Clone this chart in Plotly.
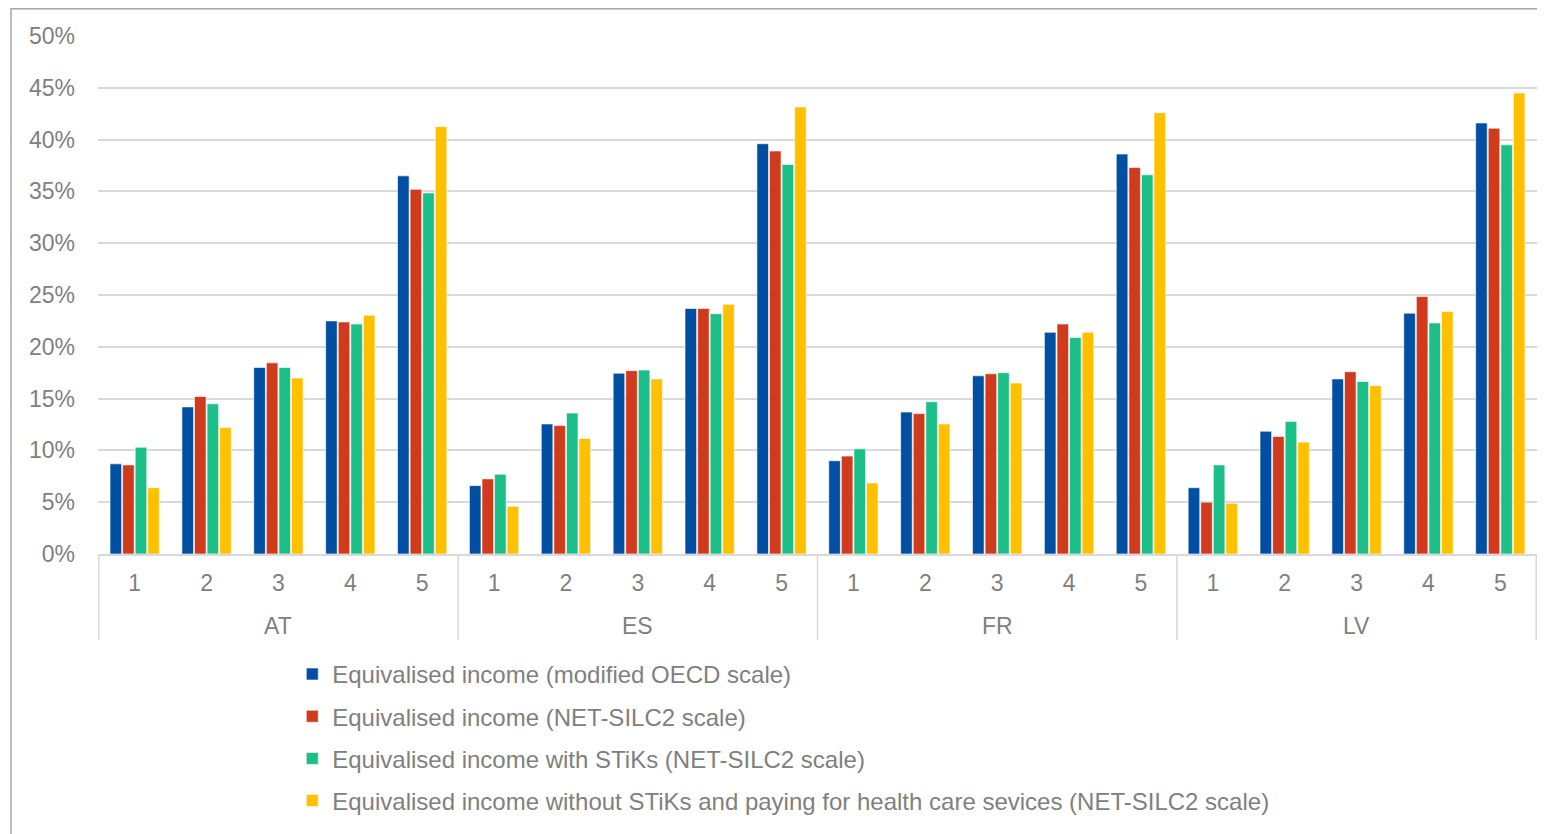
import plotly.graph_objects as go

countries = ["AT", "ES", "FR", "LV"]
quintiles = ["1", "2", "3", "4", "5"]

series_names = [
    "Equivalised income (modified OECD scale)",
    "Equivalised income (NET-SILC2 scale)",
    "Equivalised income with STiKs (NET-SILC2 scale)",
    "Equivalised income without STiKs and paying for health care sevices (NET-SILC2 scale)",
]
colors = ["#004FA2", "#D13B1D", "#1DBF89", "#FFC000"]

# values in %, order: AT q1..q5, ES q1..q5, FR q1..q5, LV q1..q5
oecd = [8.7, 14.2, 18.0, 22.5, 36.5,
        6.6, 12.55, 17.45, 23.7, 39.6,
        9.0, 13.7, 17.2, 21.4, 38.6,
        6.4, 11.85, 16.9, 23.25, 41.6]
netsilc2 = [8.6, 15.2, 18.45, 22.4, 35.2,
            7.25, 12.4, 17.7, 23.7, 38.9,
            9.45, 13.55, 17.4, 22.2, 37.3,
            5.0, 11.35, 17.6, 24.85, 41.1]
with_stiks = [10.3, 14.5, 18.0, 22.2, 34.85,
              7.7, 13.6, 17.75, 23.2, 37.6,
              10.15, 14.7, 17.5, 20.9, 36.6,
              8.6, 12.8, 16.65, 22.3, 39.5]
without_stiks = [6.4, 12.2, 17.0, 23.05, 41.25,
                 4.6, 11.15, 16.9, 24.1, 43.15,
                 6.85, 12.55, 16.5, 21.4, 42.6,
                 4.9, 10.8, 16.25, 23.4, 44.5]

all_series = [oecd, netsilc2, with_stiks, without_stiks]

# one category per (country, quintile)
cats = [f"{c} {q}" for c in countries for q in quintiles]
cat_labels = [q for _ in countries for q in quintiles]

fig = go.Figure()
for i, (name, vals) in enumerate(zip(series_names, all_series)):
    fig.add_trace(go.Bar(
        x=cats,
        y=vals,
        name=name,
        legendgroup=f"g{i}",
        marker=dict(color=colors[i], line=dict(color="white", width=0.6)),
    ))

txt = "#808080"
grid = "#D9D9D9"
# the page adds an 8px body margin, so the figure is laid out 8px smaller
W, H = 1537, 826
L, R, T, B = 90, 8, 28, 280
pw, ph = W - L - R, H - T - B

shapes = [dict(
    type="rect", xref="paper", yref="paper",
    x0=(3 - L) / pw, x1=(W + 20 - L) / pw,
    y0=-(H + 20 - (T + ph)) / ph, y1=(T + ph - 0.8) / ph,
    line=dict(color="#A6A6A6", width=1.5), fillcolor="rgba(0,0,0,0)", layer="below",
)]
# group dividers below the axis, at category boundaries
n = len(quintiles)
for k in range(len(countries) + 1):
    shapes.append(dict(
        type="line", xref="x", yref="paper",
        x0=k * n - 0.5, x1=k * n - 0.5,
        y0=0, y1=-86 / ph,
        line=dict(color=grid, width=1.5),
    ))

annotations = []
for k, c in enumerate(countries):
    annotations.append(dict(
        x=cats[k * n + n // 2], xref="x",
        y=-72 / ph, yref="paper", yanchor="middle",
        text=c, showarrow=False,
        font=dict(size=23, color=txt),
    ))

fig.update_layout(
    width=W, height=H,
    margin=dict(l=L, r=R, t=T, b=B),
    paper_bgcolor="white", plot_bgcolor="white",
    barmode="group", bargap=0.3, bargroupgap=0.08,
    font=dict(family="Liberation Sans, Arial, sans-serif", size=22, color=txt),
    showlegend=True,
    legend=dict(
        orientation="v", x=0.135, xanchor="left", y=-0.189, yanchor="top",
        font=dict(size=24, color=txt), tracegroupgap=8,
        itemwidth=30, bgcolor="rgba(0,0,0,0)",
    ),
    shapes=shapes,
    annotations=annotations,
)
fig.update_yaxes(
    range=[0, 50], dtick=5, ticksuffix="%",
    showgrid=True, gridcolor=grid, gridwidth=1.5,
    zeroline=False, showline=False, ticks="",
    ticklabelstandoff=22, automargin=False,
    tickfont=dict(size=23, color=txt),
)
fig.update_xaxes(
    type="category",
    tickmode="array", tickvals=cats, ticktext=cat_labels,
    showline=True, linecolor=grid, linewidth=1.5,
    showgrid=False, ticks="", ticklabelstandoff=8, automargin=False,
    tickfont=dict(size=23, color=txt),
)

fig.write_html("out.html")
